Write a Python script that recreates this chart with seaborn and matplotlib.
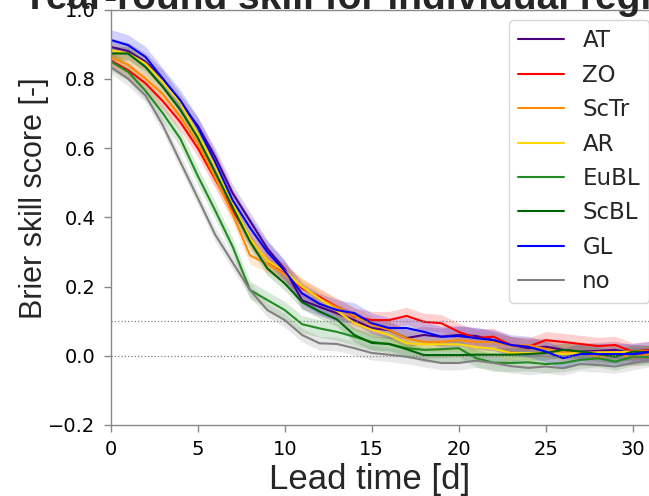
import numpy as np
import pandas as pd
import matplotlib
matplotlib.use("Agg")
import matplotlib.pyplot as plt
import seaborn as sns

# ---------------- data ----------------
lead = list(range(32))
regimes = ["AT", "ZO", "ScTr", "AR", "EuBL", "ScBL", "GL", "no"]
colors = ["indigo", "red", "darkorange", "gold", "forestgreen", "darkgreen", "blue", "gray"]

AT = [0.892, 0.880, 0.849, 0.800, 0.730, 0.665, 0.575, 0.470, 0.390, 0.310, 0.250, 0.160, 0.141, 0.123, 0.103, 0.080,
      0.074, 0.051, 0.060, 0.055, 0.060, 0.057, 0.045, 0.031, 0.022, 0.026, 0.017, 0.012, 0.014, 0.017, 0.007, 0.005]
ZO = [0.853, 0.825, 0.787, 0.735, 0.675, 0.600, 0.510, 0.420, 0.340, 0.275, 0.242, 0.195, 0.170, 0.141, 0.113, 0.103,
      0.103, 0.115, 0.098, 0.094, 0.069, 0.051, 0.055, 0.031, 0.026, 0.045, 0.040, 0.034, 0.028, 0.031, 0.012, 0.017]
ScTr = [0.863, 0.840, 0.800, 0.755, 0.690, 0.615, 0.515, 0.410, 0.290, 0.265, 0.235, 0.200, 0.165, 0.140, 0.115, 0.090,
        0.075, 0.050, 0.040, 0.040, 0.045, 0.040, 0.040, 0.030, 0.030, 0.020, 0.010, 0.012, -0.005, 0.005, -0.005, 0.005]
AR = [0.882, 0.873, 0.844, 0.790, 0.730, 0.640, 0.550, 0.440, 0.340, 0.275, 0.245, 0.200, 0.165, 0.130, 0.094, 0.075,
      0.060, 0.036, 0.033, 0.033, 0.033, 0.025, 0.020, 0.008, 0.008, 0.008, 0.005, 0.008, 0.010, 0.010, 0.012, 0.012]
EuBL = [0.850, 0.820, 0.765, 0.700, 0.627, 0.520, 0.420, 0.316, 0.190, 0.161, 0.132, 0.091, 0.079, 0.069, 0.055, 0.040,
        0.034, 0.022, 0.017, 0.019, 0.022, -0.007, -0.020, -0.021, -0.019, -0.024, -0.021, -0.012, -0.007, -0.017, -0.003, -0.003]
ScBL = [0.873, 0.873, 0.834, 0.776, 0.710, 0.630, 0.530, 0.430, 0.330, 0.252, 0.209, 0.155, 0.128, 0.105, 0.060, 0.037,
        0.034, 0.019, 0.002, 0.002, 0.002, 0.003, 0.003, 0.003, 0.005, 0.008, 0.017, 0.012, 0.005, -0.003, 0.012, 0.010]
GL = [0.912, 0.897, 0.863, 0.800, 0.738, 0.660, 0.560, 0.450, 0.370, 0.300, 0.245, 0.180, 0.150, 0.132, 0.123, 0.094,
      0.080, 0.080, 0.069, 0.055, 0.057, 0.051, 0.045, 0.031, 0.026, 0.012, -0.007, 0.005, 0.005, 0.005, 0.005, 0.012]
no = [0.834, 0.800, 0.752, 0.665, 0.560, 0.456, 0.350, 0.270, 0.190, 0.132, 0.103, 0.060, 0.036, 0.034, 0.022, 0.008,
      0.003, -0.003, -0.012, -0.021, -0.021, -0.014, -0.021, -0.030, -0.035, -0.031, -0.036, -0.024, -0.027, -0.031, -0.021, -0.012]

# half-width of the uncertainty band for each regime
band = [0.025, 0.025, 0.025, 0.02, 0.025, 0.02, 0.03, 0.02]

series = {"AT": AT, "ZO": ZO, "ScTr": ScTr, "AR": AR, "EuBL": EuBL, "ScBL": ScBL, "GL": GL, "no": no}

df = pd.concat([pd.DataFrame({"lead": lead, "bss": series[r], "regime": r}) for r in regimes], ignore_index=True)

# ---------------- figure ----------------
sns.set_style("ticks")
W, H = 649, 496
fig = plt.figure(figsize=(W / 100, H / 100), dpi=100)
ax_left, ax_right, ax_top, ax_bot = 110.7, 667.5, 9.5, 425.0
ax = fig.add_axes([ax_left / W, 1 - ax_bot / H, (ax_right - ax_left) / W, (ax_bot - ax_top) / H])

palette = dict(zip(regimes, colors))
for r, c, b in zip(regimes, colors, band):
    y = np.array(series[r])
    ax.fill_between(lead, y - b, y + b, color=c, alpha=0.18, lw=0)

sns.lineplot(data=df, x="lead", y="bss", hue="regime", hue_order=regimes, palette=palette,
             lw=1.5, ax=ax, legend="full")

ax.axhline(0.0, ls=":", color="gray", lw=0.9)
ax.axhline(0.1, ls=":", color="gray", lw=0.9)

ax.set_xlim(0, 32)
ax.set_ylim(-0.2, 1.0)
ax.set_xticks([0, 5, 10, 15, 20, 25, 30])
ax.set_yticks([-0.2, 0.0, 0.2, 0.4, 0.6, 0.8, 1.0])

for s in ax.spines.values():
    s.set_color("#888888")
    s.set_linewidth(1.0)
ax.tick_params(axis="both", colors="#888888", labelcolor="black", labelsize=14, length=5, width=1.0, pad=6)
for t in ax.get_xticklabels() + ax.get_yticklabels():
    t.set_family("DejaVu Sans")

# axis labels
ax.set_xlabel("Lead time [d]", fontsize=25, family=["Liberation Sans", "DejaVu Sans"])
ax.set_ylabel("Brier skill score [-]", fontsize=22, family=["Liberation Sans", "DejaVu Sans"])
ax.xaxis.label.set_va("baseline")
ax.yaxis.label.set_va("baseline")
ax.xaxis.set_label_coords(370 / W, 1 - 489 / H, transform=fig.transFigure)
ax.yaxis.set_label_coords(42 / W, 1 - 198 / H, transform=fig.transFigure)

# title (partly outside the frame, as in the reference)
fig.text(376 / W, 1 - 9.0 / H, "Year-round skill for individual regimes", fontsize=28, fontweight="bold",
         family=["Liberation Sans", "DejaVu Sans"], ha="center", va="baseline")

# legend
leg = ax.get_legend()
handles = leg.legend_handles
labels = [t.get_text() for t in leg.get_texts()]
ax.legend(handles, labels, loc="upper left", bbox_to_anchor=(509 / W, 1 - 20 / H),
          bbox_transform=fig.transFigure, borderaxespad=0, frameon=True,
          prop={"family": "DejaVu Sans", "size": 16.5})

fig.savefig("out.png", dpi=100)
